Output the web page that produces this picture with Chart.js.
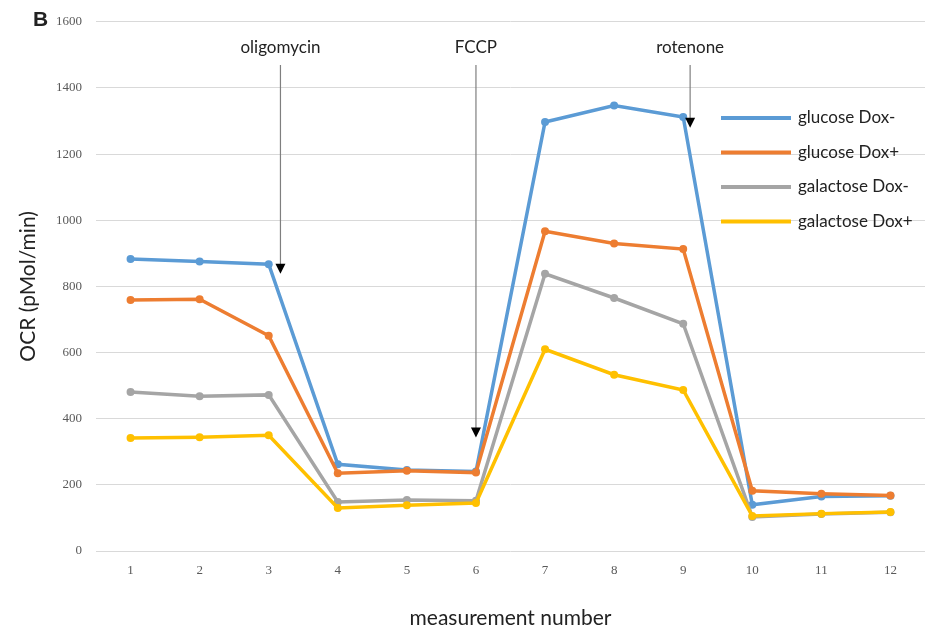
<!DOCTYPE html>
<html>
<head>
<meta charset="utf-8">
<script src="https://cdn.jsdelivr.net/npm/chart.js@4/dist/chart.umd.min.js"></script>
<style>
  html, body { margin: 0; padding: 0; background: #fff; }
  #wrap { width: 941px; height: 633px; position: relative; }
</style>
</head>
<body>
<div id="wrap"><canvas id="ocrChart"></canvas></div>
<script>
// Données du graphique
const measurements = ['1', '2', '3', '4', '5', '6', '7', '8', '9', '10', '11', '12'];
const seriesNames = ['glucose Dox-', 'glucose Dox+', 'galactose Dox-', 'galactose Dox+'];
const glucoseDoxMinus = [883, 875, 867, 262, 245, 240, 1297, 1347, 1312, 140, 165, 167];
const glucoseDoxPlus = [759, 761, 651, 235, 243, 237, 967, 930, 913, 182, 173, 168];
const galactoseDoxMinus = [481, 468, 472, 148, 154, 152, 838, 765, 687, 103, 112, 117];
const galactoseDoxPlus = [342, 344, 350, 130, 138, 145, 610, 533, 487, 106, 113, 118];
const yTicks = [0, 200, 400, 600, 800, 1000, 1200, 1400, 1600];
// Injections : nom, position sur l'axe x, hauteur de la pointe
const injectionNames = ['oligomycin', 'FCCP', 'rotenone'];
const injectionAt = [3.17, 6.0, 9.1];
const injectionTip = [838, 343, 1280];

const colors = ['#5b9bd5', '#ed7d31', '#a5a5a5', '#ffc000'];
const allSeries = [glucoseDoxMinus, glucoseDoxPlus, galactoseDoxMinus, galactoseDoxPlus];

// Plugin pour les flèches, la lettre B et la légende
const decorations = {
    id: 'decorations',
    afterDatasetsDraw(chart) {
        const ctx = chart.ctx;
        const x = chart.scales.x;
        const y = chart.scales.y;
        const px = v => {
            const i = Math.floor(v) - 1;
            const a = x.getPixelForValue(i);
            const b = x.getPixelForValue(i + 1);
            return a + (b - a) * (v - Math.floor(v));
        };
        ctx.save();
        injectionNames.forEach((name, k) => {
            const xp = px(injectionAt[k]);
            const top = 65;
            const tip = y.getPixelForValue(injectionTip[k]);
            ctx.strokeStyle = '#7f7f7f';
            ctx.lineWidth = 1.2;
            ctx.beginPath();
            ctx.moveTo(xp, top);
            ctx.lineTo(xp, tip - 8);
            ctx.stroke();
            ctx.fillStyle = '#000';
            ctx.beginPath();
            ctx.moveTo(xp - 5, tip - 10);
            ctx.lineTo(xp + 5, tip - 10);
            ctx.lineTo(xp, tip);
            ctx.closePath();
            ctx.fill();
            ctx.font = '17px Lato';
            ctx.textAlign = 'center';
            ctx.textBaseline = 'middle';
            ctx.fillStyle = '#222';
            ctx.fillText(name, xp, 48);
        });

        // lettre du panneau
        ctx.font = 'bold 21px "Liberation Sans"';
        ctx.textAlign = 'left';
        ctx.fillStyle = '#222';
        ctx.fillText('B', 33, 20);

        // légende
        seriesNames.forEach((name, k) => {
            const ly = 118 + k * 34.5;
            ctx.strokeStyle = colors[k];
            ctx.lineWidth = 4;
            ctx.beginPath();
            ctx.moveTo(721, ly);
            ctx.lineTo(791, ly);
            ctx.stroke();
            ctx.font = '17px Lato';
            ctx.fillStyle = '#222';
            ctx.textAlign = 'left';
            ctx.fillText(name, 798, ly);
        });
        ctx.restore();
    }
};

document.addEventListener('DOMContentLoaded', function() {
    const ctx = document.getElementById('ocrChart').getContext('2d');
    new Chart(ctx, {
        type: 'line',
        data: {
            labels: measurements,
            datasets: allSeries.map((vals, k) => ({
                label: seriesNames[k],
                data: vals,
                borderColor: colors[k],
                backgroundColor: colors[k],
                borderWidth: 3.5,
                pointRadius: 4,
                pointBorderWidth: 0,
                tension: 0,
                fill: false
            })).reverse()
        },
        options: {
            responsive: true,
            maintainAspectRatio: false,
            animation: false,
            layout: { padding: { top: 18, right: 16, left: 0, bottom: 0 } },
            plugins: {
                legend: { display: false },
                tooltip: { enabled: false }
            },
            scales: {
                x: {
                    offset: true,
                    grid: { display: false, drawTicks: false },
                    border: { display: false },
                    ticks: { color: '#595959', font: { family: 'Liberation Serif', size: 13 }, padding: 12, maxRotation: 0 },
                    title: {
                        display: true,
                        text: 'measurement number',
                        color: '#222',
                        font: { family: 'Lato', size: 21 },
                        padding: { top: 20, bottom: 2 }
                    },
                    afterFit: scale => { scale.height = 82; }
                },
                y: {
                    min: 0,
                    max: 1600,
                    afterBuildTicks: scale => { scale.ticks = yTicks.map(v => ({ value: v })); },
                    grid: { color: '#d9d9d9', lineWidth: 1, drawTicks: false },
                    border: { display: false },
                    ticks: {
                        color: '#595959',
                        font: { family: 'Liberation Serif', size: 13 },
                        padding: 14,
                        callback: v => String(v)
                    },
                    title: {
                        display: true,
                        text: 'OCR (pMol/min)',
                        color: '#222',
                        font: { family: 'Lato', size: 21 },
                        padding: { top: 16, bottom: 0 }
                    },
                    afterFit: scale => { scale.width = 96; }
                }
            }
        },
        plugins: [decorations]
    });
});
</script>
</body>
</html>
